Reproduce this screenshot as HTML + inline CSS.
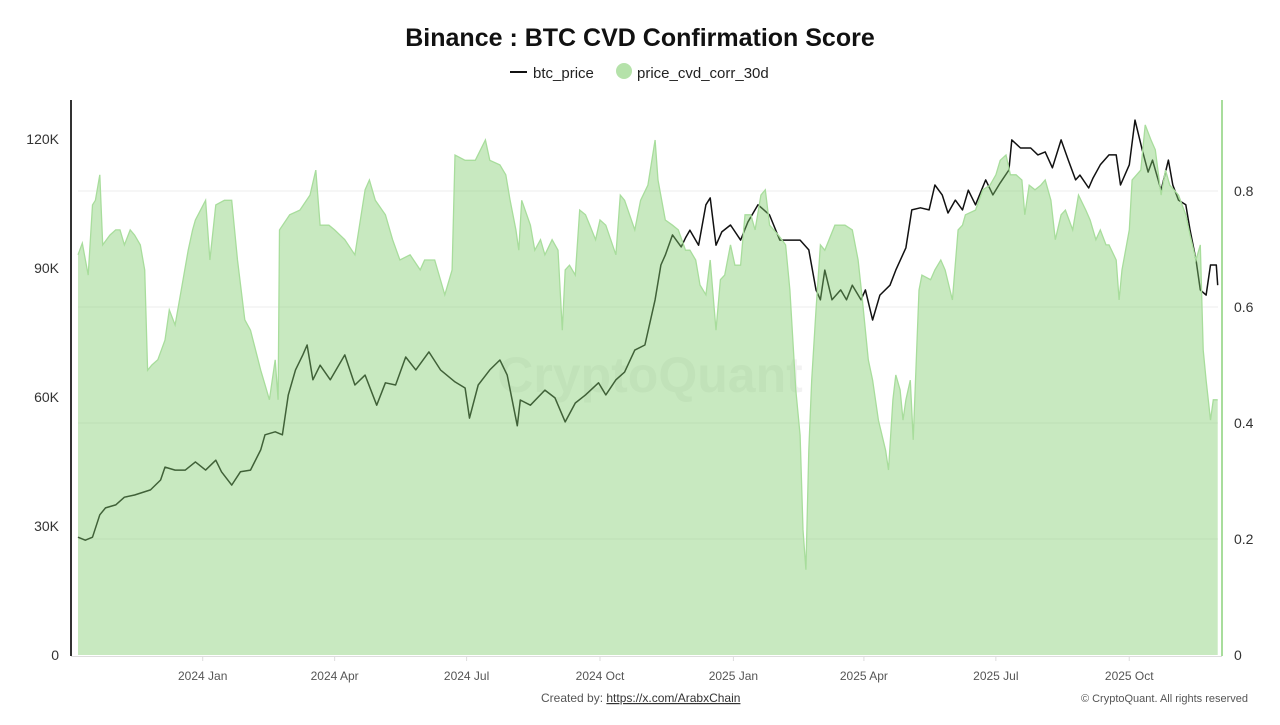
<!DOCTYPE html>
<html><head><meta charset="utf-8"><style>
body{margin:0;background:#fff;font-family:"Liberation Sans",sans-serif;}
svg text{font-family:"Liberation Sans",sans-serif;}
</style></head><body>
<svg id="chart" width="1280" height="720" viewBox="0 0 1280 720" xmlns="http://www.w3.org/2000/svg">
<text x="640" y="46" text-anchor="middle" font-size="25" font-weight="bold" fill="#111">Binance : BTC CVD Confirmation Score</text>
<g>
<g><line x1="510" y1="72" x2="527" y2="72" stroke="#111" stroke-width="2"/><text x="533" y="78" font-size="15" fill="#222">btc_price</text></g>
<g><circle cx="624" cy="71" r="8" fill="#b5e2aa"/><text x="637" y="78" font-size="15" fill="#222">price_cvd_corr_30d</text></g>
</g>
<text x="650" y="392" text-anchor="middle" font-size="50" font-weight="bold" fill="#000" fill-opacity="0.05">CryptoQuant</text>
<g id="grid"></g>
<g id="plot"></g>
<g id="axes"></g>
<text x="541" y="702" font-size="12" fill="#555">Created by: <tspan text-decoration="underline" fill="#333">https://x.com/ArabxChain</tspan></text>
<text x="1248" y="702" text-anchor="end" font-size="11" fill="#555">© CryptoQuant. All rights reserved</text>
</svg>
<script>
// days since 2023-10-07
const priceDays=[0,5,10,15,19,26,32,39,50,57,60,67,74,81,88,95,99,106,112,119,126,129,136,141,145,150,155,158,162,167,174,184,191,198,206,212,219,226,233,242,250,260,267,270,276,284,291,296,303,305,312,322,329,336,343,350,359,364,371,377,384,391,398,402,405,410,416,419,422,428,433,436,440,444,450,457,462,469,473,477,484,491,498,504,509,512,515,520,526,530,534,540,543,548,553,560,564,571,575,581,587,591,596,600,605,610,614,619,626,631,636,642,644,650,657,662,667,672,678,683,688,691,697,700,705,711,716,719,725,729,734,738,741,747,752,755,759,764,767,771,774,778,781,785,786];
const priceK=[27.4,26.7,27.4,32.6,34.2,34.9,36.7,37.2,38.4,40.7,43.7,43.0,43.0,44.9,43.0,45.3,42.6,39.5,42.6,43.0,47.7,51.2,51.9,51.2,60.5,66.3,69.8,72.1,64.0,67.4,64.0,69.8,62.8,65.1,58.1,63.3,62.8,69.3,66.3,70.5,66.3,63.5,62.1,55.1,62.8,66.3,68.6,65.1,53.3,59.3,58.1,61.6,59.8,54.2,58.6,60.5,63.3,60.5,64.0,65.8,70.9,72.1,82.6,90.7,93.0,97.7,94.9,97.0,98.8,95.3,104.7,106.3,95.3,98.4,100.0,96.5,100.7,104.7,103.5,102.3,96.5,96.5,96.5,94.2,84.9,82.6,89.5,82.6,84.9,82.6,86.0,82.6,84.9,77.9,83.7,86.0,89.5,94.7,103.5,104.0,103.5,109.3,107.0,102.8,105.8,103.5,108.1,104.7,110.5,107.0,109.8,112.8,119.8,117.9,117.9,116.3,117.0,113.3,119.8,115.1,110.5,111.6,108.6,110.9,114.0,116.3,116.3,109.3,114.0,124.4,117.4,112.3,115.1,108.1,115.1,109.3,105.8,104.7,98.8,91.9,84.9,83.7,90.7,90.7,86.0];
const corrDays=[0,3,7,10,12,15,17,22,26,29,32,36,39,43,46,48,51,55,60,63,67,70,76,79,81,88,91,95,101,106,110,115,119,126,129,132,136,138,139,146,153,160,164,167,173,177,184,191,198,201,205,212,217,222,229,236,239,246,253,258,260,267,274,281,284,291,295,298,302,304,306,312,315,319,322,327,331,334,336,339,343,346,350,353,357,360,364,371,374,377,384,388,393,398,400,405,410,414,419,422,426,429,433,436,440,443,446,450,453,457,460,464,467,471,474,477,483,488,491,495,498,500,502,504,506,509,512,515,522,529,534,538,541,545,548,552,557,559,562,564,567,569,571,574,576,580,582,588,591,595,598,603,607,610,612,619,624,629,633,636,640,643,647,651,653,656,660,664,667,671,674,678,681,686,690,695,698,702,705,709,711,716,718,720,725,727,733,736,740,743,747,750,753,759,764,767,771,774,776,778,781,783,786];
const corrVals=[.69,.71,.655,.776,.784,.828,.707,.724,.733,.733,.707,.733,.724,.707,.664,.491,.5,.509,.543,.595,.569,.612,.698,.733,.75,.784,.681,.776,.784,.784,.681,.578,.56,.491,.466,.44,.509,.44,.733,.759,.767,.793,.836,.741,.741,.733,.716,.69,.802,.819,.784,.759,.716,.681,.69,.664,.681,.681,.621,.664,.862,.853,.853,.888,.853,.845,.828,.784,.733,.698,.784,.741,.698,.716,.69,.716,.698,.56,.664,.672,.655,.767,.759,.741,.716,.75,.741,.69,.793,.784,.733,.784,.81,.888,.819,.75,.741,.733,.698,.698,.681,.638,.621,.681,.56,.647,.655,.707,.672,.672,.759,.759,.733,.793,.802,.741,.724,.707,.629,.457,.379,.216,.147,.353,.474,.595,.707,.698,.741,.741,.733,.681,.612,.509,.474,.405,.353,.319,.44,.483,.457,.405,.44,.474,.371,.629,.655,.647,.664,.681,.664,.612,.733,.741,.759,.767,.802,.81,.828,.853,.862,.828,.828,.819,.759,.81,.802,.81,.819,.784,.716,.759,.767,.733,.793,.767,.75,.716,.733,.707,.707,.681,.612,.664,.733,.819,.836,.914,.888,.871,.793,.836,.81,.793,.759,.724,.681,.707,.526,.474,.405,.44,.44];
const leftTicks=[0,30,60,90,120];
const leftTickLabels=["0","30K","60K","90K","120K"];
const rightTicks=[0,0.2,0.4,0.6,0.8];
const rightTickLabels=["0","0.2","0.4","0.6","0.8"];
const xTickDays=[86,177,268,360,452,542,633,725];
const xTickLabels=["2024 Jan","2024 Apr","2024 Jul","2024 Oct","2025 Jan","2025 Apr","2025 Jul","2025 Oct"];

const X0=78,PXD=1.45,Y0=655;
const xs=d=>X0+d*PXD;
const yL=k=>Y0-k*129/30;
const yR=v=>Y0-v*580;
const NS="http://www.w3.org/2000/svg";
function mk(tag,attrs,parent){const e=document.createElementNS(NS,tag);for(const k in attrs)e.setAttribute(k,attrs[k]);parent.appendChild(e);return e;}
const gridG=document.getElementById('grid'),plotG=document.getElementById('plot'),axesG=document.getElementById('axes');
rightTicks.forEach((v,i)=>{if(i===0)return;const g=mk('line',{x1:78,x2:1218,y1:yR(v),y2:yR(v),stroke:'#eee','stroke-width':1},gridG);

});
// price line
const pn=Math.min(priceDays.length,priceK.length);
let priceD='';
for(let i=0;i<pn;i++){priceD+=(i?'L':'M')+xs(priceDays[i]).toFixed(1)+','+yL(priceK[i]).toFixed(1);}
const pl=mk('path',{d:priceD,fill:'none',stroke:'#111','stroke-width':1.5,'stroke-linejoin':'round'},plotG);


// corr area
const cn=Math.min(corrDays.length,corrVals.length);
let areaTop='';
for(let i=0;i<cn;i++){areaTop+=(i?'L':'M')+xs(corrDays[i]).toFixed(1)+','+yR(corrVals[i]).toFixed(1);}
const lastX=xs(corrDays[cn-1]);
const ar=mk('path',{d:areaTop+'L'+lastX+','+Y0+'L'+X0+','+Y0+'Z',fill:'rgb(128,204,108)','fill-opacity':0.43,stroke:'none'},plotG);


const al=mk('path',{d:areaTop,fill:'none',stroke:'#a8dd9c','stroke-width':1.3},plotG);


// axes
const la=mk('line',{x1:71,x2:71,y1:100,y2:656,stroke:'#333','stroke-width':2},axesG);


const ra=mk('line',{x1:1222,x2:1222,y1:100,y2:656,stroke:'#a8dd9c','stroke-width':2},axesG);


const ba=mk('line',{x1:71,x2:1222,y1:656.5,y2:656.5,stroke:'#ddd','stroke-width':1},axesG);


leftTicks.forEach((v,i)=>{const t=mk('text',{x:59,y:yL(v)+5,'text-anchor':'end','font-size':14,fill:'#333'},axesG);t.textContent=leftTickLabels[i];

});
rightTicks.forEach((v,i)=>{const t=mk('text',{x:1234,y:yR(v)+5,'font-size':14,fill:'#333'},axesG);t.textContent=rightTickLabels[i];

});
xTickDays.forEach((v,i)=>{const x=xs(v);mk('line',{x1:x,x2:x,y1:656,y2:661,stroke:'#ddd'},axesG);
const t=mk('text',{x:x,y:680,'text-anchor':'middle','font-size':12,fill:'#555'},axesG);t.textContent=xTickLabels[i];

});
</script>
</body></html>
